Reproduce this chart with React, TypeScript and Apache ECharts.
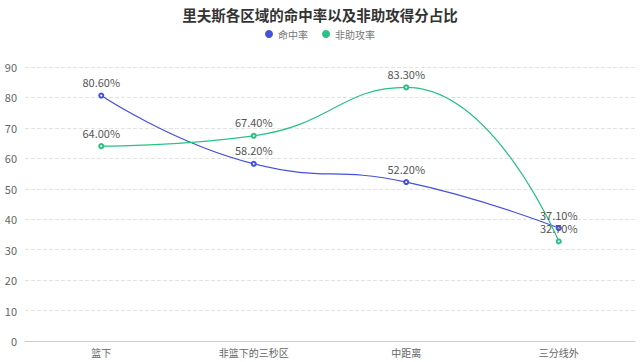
import React, { useEffect, useRef } from "react";
import * as echarts from "echarts";

const categories = ["篮下", "非篮下的三秒区", "中距离", "三分线外"];
const hitRate = [80.6, 58.2, 52.2, 37.1];
const unassisted = [64.0, 67.4, 83.3, 32.7];
const seriesNames = ["命中率", "非助攻率"];
const titleText = "里夫斯各区域的命中率以及非助攻得分占比";

export default function App() {
  const ref = useRef<HTMLDivElement>(null);
  useEffect(() => {
    const chart = echarts.init(ref.current!, null, { renderer: "svg" });
    const font = "'Microsoft YaHei', 'Noto Sans CJK SC', sans-serif";
    chart.setOption({
      animation: false,
      textStyle: { fontFamily: font },
      title: {
        text: titleText,
        left: "center",
        top: 2,
        textStyle: { fontSize: 14.5, fontWeight: "bold", color: "#333", fontFamily: font },
      },
      legend: {
        top: 24,
        left: "center",
        icon: "circle",
        itemWidth: 8,
        itemHeight: 8,
        itemGap: 14,
        textStyle: { fontSize: 10, color: "#777" },
        data: seriesNames,
      },
      grid: { left: 25, right: 5, top: 67, bottom: 21, containLabel: false },
      xAxis: {
        type: "category",
        data: categories,
        boundaryGap: true,
        axisLine: { lineStyle: { color: "#ccc" } },
        axisTick: { alignWithLabel: true, length: 4, lineStyle: { color: "#ccc" } },
        axisLabel: { fontSize: 10, color: "#666", margin: 6 },
      },
      yAxis: {
        type: "value",
        min: 0,
        max: 90,
        interval: 10,
        axisLine: { show: false },
        axisTick: { show: false },
        axisLabel: { fontSize: 11, color: "#666", margin: 8 },
        splitLine: { lineStyle: { type: "dashed", color: "#e3e3e3" } },
      },
      series: [
        {
          name: seriesNames[0],
          type: "line",
          smooth: true,
          data: hitRate,
          symbol: "emptyCircle",
          symbolSize: 4,
          itemStyle: { color: "#4551d9" },
          lineStyle: { width: 1.2 },
          label: { show: true, position: "top", color: "#555", fontSize: 11, formatter: (p: any) => p.value.toFixed(2) + "%" },
        },
        {
          name: seriesNames[1],
          type: "line",
          smooth: true,
          data: unassisted,
          symbol: "emptyCircle",
          symbolSize: 4,
          itemStyle: { color: "#25c283" },
          lineStyle: { width: 1.2 },
          label: { show: true, position: "top", color: "#555", fontSize: 11, formatter: (p: any) => p.value.toFixed(2) + "%" },
        },
      ],
    });
    return () => chart.dispose();
  }, []);
  return <div ref={ref} style={{ width: 640, height: 362, position: "absolute", left: 0, top: 0 }} />;
}
